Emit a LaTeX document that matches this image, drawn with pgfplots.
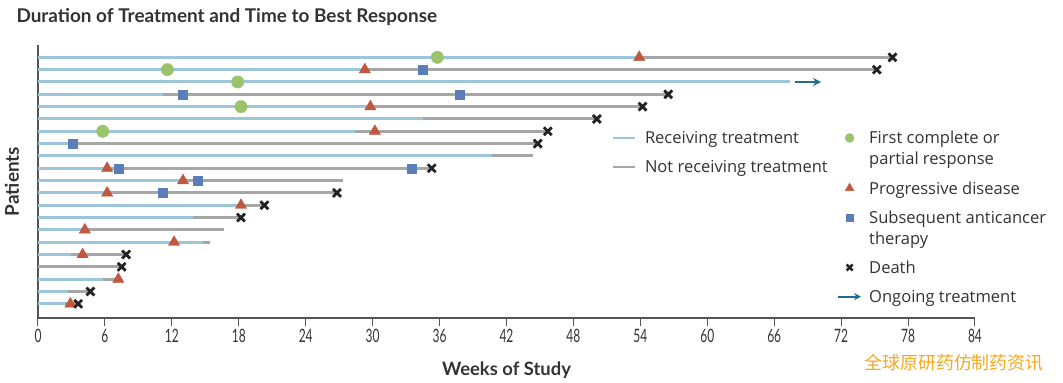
\documentclass[border=0pt]{standalone}
\usepackage{pgfplots}
\pgfplotsset{compat=1.18}
\usepackage{fontspec}
\setmainfont{Lato}
\newfontfamily\condfont[FakeStretch=0.65]{Lato}
\newfontfamily\legfont{Open Sans}
\newfontfamily\cjk{Noto Sans CJK SC}
\usetikzlibrary{arrows.meta}
\definecolor{rxblue}{HTML}{9DC6DA}
\definecolor{offgray}{HTML}{A6A6A6}
\definecolor{respgreen}{HTML}{9BC36B}
\definecolor{pdred}{HTML}{C0583F}
\definecolor{sqblue}{HTML}{5A7FB8}
\definecolor{deathblk}{HTML}{222222}
\definecolor{arrowteal}{HTML}{1E6E8C}
\definecolor{axgray}{HTML}{555555}
\definecolor{txt}{HTML}{333333}
\definecolor{wmorange}{HTML}{F5A81E}
\pgfplotsset{
  markleg/.style={legend image code/.code={\path[draw=none] (0bp,6bp) (23bp,6bp); \path[##1, draw=none] plot[only marks] coordinates {(11.5bp,6bp)};}},
  arrowleg/.style={legend image code/.code={\draw[##1] (0bp,6bp) -- (23bp,6bp);}},
}
\begin{document}
\begin{tikzpicture}
\useasboundingbox (-38bp,-65bp) rectangle (1025bp,318bp);
\begin{axis}[
  scale only axis, width=937bp, height=273bp,
  xmin=0, xmax=84, ymin=-0.15, ymax=22,
  axis lines*=left,
  axis line style={axgray, line width=1.5bp},
  xtick={0,6,...,84}, ytick=\empty,
  tick align=outside, major tick length=8bp,
  xtick style={axgray, line width=1bp},
  /pgf/number format/assume math mode=true,
  xticklabel style={font=\condfont\fontsize{18.5}{18.5}\selectfont, text=txt},
  xlabel={Weeks of Study}, ylabel={Patients},
  every axis x label/.style={at={(axis description cs:0.5,0)}, anchor=center, yshift=-52bp, font=\bfseries\fontsize{18.5}{18.5}\selectfont, text=txt},
  every axis y label/.style={at={(axis description cs:0,0.5)}, anchor=center, xshift=-26bp, rotate=90, font=\bfseries\fontsize{19}{19}\selectfont, text=txt},
  unbounded coords=jump,
  clip=false,
  legend style={at={(0.6126,0.6912)}, anchor=north west, draw=none, fill=none, inner sep=0pt, outer sep=0pt, row sep=8bp, column sep=9bp, font=\legfont\fontsize{16.6}{21}\selectfont, text=txt, cells={anchor=base west}, nodes={inner sep=0pt, text depth={}}},
  legend image code/.code={\draw[#1, line width=2bp] (0bp,6bp) -- (22bp,6bp);},
]
\addlegendimage{rxblue}
\addlegendimage{offgray}
\legend{\strut Receiving treatment, \strut Not receiving treatment}

% not receiving treatment
\addplot[offgray, line width=3bp] coordinates {
(54,21)(76.6,21) (nan,nan)
(29.3,20)(75.2,20) (nan,nan)
(11.2,18)(56.5,18) (nan,nan)
(29.8,17)(54.2,17) (nan,nan)
(34.5,16)(50.1,16) (nan,nan)
(28.4,15)(45.7,15) (nan,nan)
(3.1,14)(44.8,14) (nan,nan)
(40.7,13)(44.4,13) (nan,nan)
(6.2,12)(35.3,12) (nan,nan)
(13.0,11)(27.3,11) (nan,nan)
(6.2,10)(26.8,10) (nan,nan)
(18.2,9)(20.3,9) (nan,nan)
(13.9,8)(18.2,8) (nan,nan)
(4.2,7)(16.7,7) (nan,nan)
(14.8,6)(15.4,6) (nan,nan)
(3.0,5)(7.9,5) (nan,nan)
(0,4)(7.5,4) (nan,nan)
(5.8,3)(7.2,3) (nan,nan)
(2.7,2)(4.7,2) (nan,nan)
(2.4,1)(3.6,1)
};
% receiving treatment
\addplot[rxblue, line width=3bp] coordinates {
(0,21)(54,21) (nan,nan)
(0,20)(29.3,20) (nan,nan)
(0,19)(67.4,19) (nan,nan)
(0,18)(11.2,18) (nan,nan)
(0,17)(29.8,17) (nan,nan)
(0,16)(34.5,16) (nan,nan)
(0,15)(28.4,15) (nan,nan)
(0,14)(3.1,14) (nan,nan)
(0,13)(40.7,13) (nan,nan)
(0,12)(6.2,12) (nan,nan)
(0,11)(13.0,11) (nan,nan)
(0,10)(6.2,10) (nan,nan)
(0,9)(18.2,9) (nan,nan)
(0,8)(13.9,8) (nan,nan)
(0,7)(4.2,7) (nan,nan)
(0,6)(14.8,6) (nan,nan)
(0,5)(3.0,5) (nan,nan)
(0,3)(5.8,3) (nan,nan)
(0,2)(2.7,2) (nan,nan)
(0,1)(2.4,1)
};
% ongoing treatment
\addplot[arrowteal, line width=2.2bp, -{Stealth[length=8bp,width=8bp]}] coordinates {(67.9,19)(70.2,19)};
% first complete or partial response
\addplot[only marks, mark=*, mark size=6.2bp, respgreen, mark options={draw=none, fill=respgreen}] coordinates {
(35.8,21)(11.6,20)(17.9,19)(18.2,17)(5.8,15)};
% progressive disease
\addplot[only marks, mark=triangle*, mark size=6.5bp, pdred, mark options={draw=none, fill=pdred}] coordinates {
(53.9,21)(29.3,20)(29.8,17)(30.2,15)(6.2,12)(13.0,11)(6.2,10)(18.2,9)(4.2,7)(12.2,6)(4.0,5)(7.2,3)(2.9,1)};
% subsequent anticancer therapy
\addplot[only marks, mark=square*, mark size=4.5bp, sqblue, mark options={draw=none, fill=sqblue}] coordinates {
(34.5,20)(13.0,18)(37.8,18)(3.1,14)(7.2,12)(33.5,12)(14.3,11)(11.2,10)};
% death
\addplot[only marks, mark=x, mark size=5.6bp, deathblk, mark options={line width=2.8bp}] coordinates {
(76.6,21)(75.2,20)(56.5,18)(54.2,17)(50.1,16)(45.7,15)(44.8,14)(35.3,12)(26.8,10)(20.3,9)(18.2,8)(7.9,5)(7.5,4)(4.7,2)(3.6,1)};
\end{axis}

\begin{axis}[
  scale only axis, width=937bp, height=273bp,
  xmin=0, xmax=1, ymin=0, ymax=1, hide axis,
  legend style={at={(0.8527,0.6912)}, anchor=north west, draw=none, fill=none, inner sep=0pt, outer sep=0pt, row sep=8.3bp, column sep=7bp, font=\legfont\fontsize{16.6}{21}\selectfont, text=txt, cells={anchor=base west}, nodes={inner sep=0pt, text depth={}}},
]
\addlegendimage{mark=*, mark size=4.5bp, respgreen, mark options={draw=none, fill=respgreen}, markleg}
\addlegendentry{\begin{tabular}[t]{@{}l@{}}First complete or\\partial response\end{tabular}}
\addlegendimage{mark=triangle*, mark size=5bp, pdred, mark options={draw=none, fill=pdred}, markleg}
\addlegendentry{\strut Progressive disease}
\addlegendimage{mark=square*, mark size=3.5bp, sqblue, mark options={draw=none, fill=sqblue}, markleg}
\addlegendentry{\begin{tabular}[t]{@{}l@{}}Subsequent anticancer\\therapy\end{tabular}}
\addlegendimage{mark=x, mark size=4.2bp, deathblk, mark options={draw=deathblk, line width=2.5bp}, markleg}
\addlegendentry{\strut Death}
\addlegendimage{arrowteal, line width=2.2bp, -{Stealth[length=7bp,width=7bp]}, arrowleg}
\addlegendentry{\strut Ongoing treatment}
\end{axis}

\node[anchor=base west, font=\bfseries\fontsize{19}{19}\selectfont, text=txt] at (-25bp,295bp) {Duration of Treatment and Time to Best Response};
\node[anchor=center, font=\cjk\fontsize{18}{18}\selectfont, text=wmorange] at (916bp,-45bp) {全球原研药仿制药资讯};
\end{tikzpicture}
\end{document}
